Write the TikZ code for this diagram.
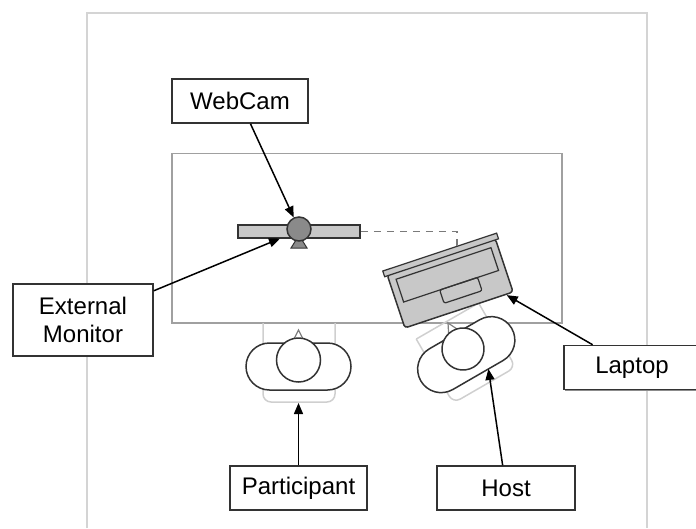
\documentclass[tikz,border=0pt]{standalone}
\usepackage{fontspec}
\setmainfont{Liberation Sans}
\usetikzlibrary{arrows.meta,shadows}

\definecolor{roomline}{HTML}{D4D4D4}
\definecolor{tableline}{HTML}{A0A0A0}
\definecolor{ink}{HTML}{333333}
\definecolor{devfill}{HTML}{C8C8C8}
\definecolor{camfill}{HTML}{8A8A8A}
\definecolor{chairline}{HTML}{CFCFCF}
\definecolor{linkline}{HTML}{7A7A7A}

\tikzset{
  label box/.style={draw=ink, line width=1.5pt, fill=white, inner sep=0pt,
    align=center, font=\fontsize{24}{28}\selectfont,
    drop shadow={shadow xshift=1pt, shadow yshift=-1pt, fill=black!45, opacity=1}},
  pointer/.style={draw=black, line width=1.5pt, -{Triangle[length=11pt,width=9pt]}},
  outline/.style={draw=ink, line width=1.5pt},
  chair/.style={draw=chairline, line width=1.5pt},
  cam/.style={circle, draw=ink, line width=1.5pt, fill=camfill, minimum size=24pt, inner sep=0pt},
  link/.style={draw=linkline, line width=1.5pt, dash pattern=on 7pt off 6pt},
}

\begin{document}
\begin{tikzpicture}[x=1pt, y=-1pt]
\useasboundingbox (0,0) rectangle (696,528);

% room walls
\draw[roomline, line width=2pt] (87,528) -- (87,12.5) -- (647,12.5) -- (647,528);

% table
\draw[tableline, line width=1.5pt] (172,153.5) rectangle (562,323);

% participant (head centre as origin)
\begin{scope}[shift={(298.5,360)}]
  \draw[chair, rounded corners=8pt] (-35.5,-37) -- (-35.5,42) -- (36.5,42) -- (36.5,-37);
  \draw[outline, fill=white, rounded corners=23.5pt] (-52.5,-17) rectangle (52.5,30);
  \draw[draw=gray, line width=1.2pt, fill=white] (-5,-20) -- (0,-30) -- (5,-20) -- cycle;
  \draw[outline, fill=white] (0,0) circle (22);
  \coordinate (partpt) at (0,43);
\end{scope}

% host, turned towards the laptop
\begin{scope}[shift={(463,349)}, rotate=30]
  \draw[chair] (36.5,-32) -- (-35.5,-32);
  \draw[chair, rounded corners=8pt] (-35.5,-32) -- (-35.5,42) -- (36.5,42) -- (36.5,-32);
  \draw[outline, fill=white, rounded corners=23.5pt] (-52.5,-17) rectangle (52.5,30);
  \draw[draw=gray, line width=1.2pt, fill=white] (-5,-20) -- (0,-30) -- (5,-20) -- cycle;
  \draw[outline, fill=white] (0,0) circle (21);
  \coordinate (hostpt) at (12,30);
\end{scope}

% external monitor with webcam on top
\node[outline, fill=devfill, minimum width=122pt, minimum height=13pt, inner sep=0pt]
  (monitor) at (299,231.5) {};
\draw[outline, line width=1pt, fill=camfill] (291,248) -- (296,240) -- (302,240) -- (307,248) -- cycle;
\node[cam] (cam) at (299,229) {};
\coordinate (monpt) at (280,238.5);

% laptop
\begin{scope}[shift={(449.5,281.5)}, rotate=18.4]
  \draw[outline, fill=devfill, rounded corners=3pt] (-57,-26) rectangle (57,30);
  \draw[outline, fill=devfill, line width=1.2pt] (-60,-31) rectangle (60,-25);
  \draw[outline, line width=1.2pt] (-50,-19) rectangle (50,5);
  \draw[outline, line width=1.2pt, rounded corners=2pt] (-12,5) rectangle (28,19);
  \coordinate (lapjack) at (18,-31);
  \coordinate (lappt) at (50,31);
\end{scope}

% video link between monitor and laptop
\draw[link] (monitor.east) -- (monitor.east -| lapjack) -- (lapjack);

% labels
\node[label box, minimum width=136pt, minimum height=44pt] (webcam) at (240,101) {WebCam};
\node[label box, minimum width=140pt, minimum height=72pt] (extmon) at (83,320) {External\\Monitor};
\node[label box, minimum width=136pt, minimum height=44pt] (laptop) at (632,367.5) {Laptop};
\node[label box, minimum width=137pt, minimum height=44pt] (participant) at (298.5,488) {Participant};
\node[label box, minimum width=138pt, minimum height=44pt] (host) at (506,488) {Host};

% pointers
\draw[pointer] (webcam) -- (cam);
\draw[pointer] (extmon) -- (monpt);
\draw[pointer] (laptop) -- (lappt);
\draw[pointer] (participant) -- (partpt);
\draw[pointer] (host) -- (hostpt);
\end{tikzpicture}
\end{document}
